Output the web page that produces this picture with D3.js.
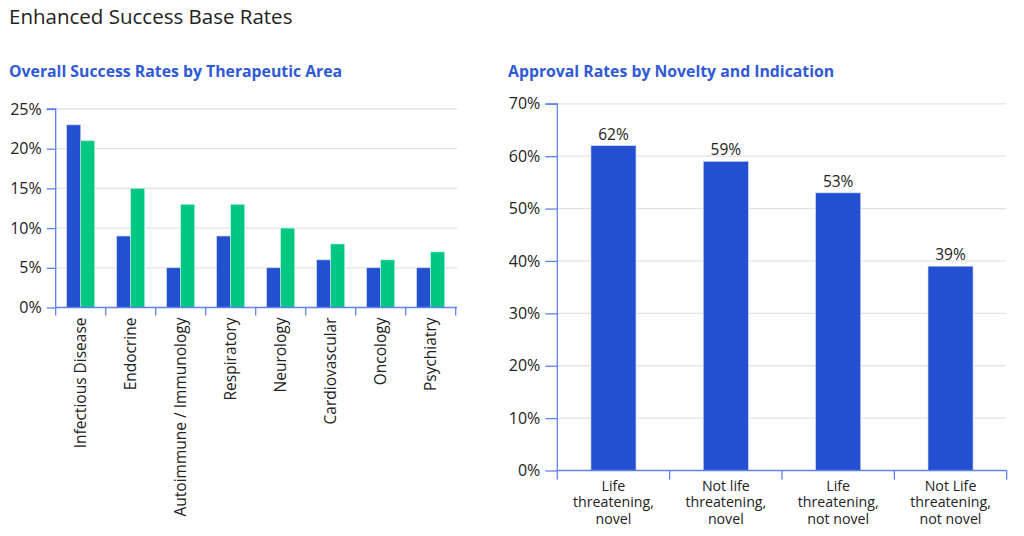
<!DOCTYPE html>
<html><head><meta charset="utf-8">
<script src="https://cdn.jsdelivr.net/npm/d3@7"></script>
<style>
body{margin:0;background:#fff;}
svg text{font-family:"Open Sans",sans-serif;}
</style></head>
<body><svg id="c" width="1024" height="536"></svg>
<script>
const areas = ["Infectious Disease","Endocrine","Autoimmune / Immunology","Respiratory","Neurology","Cardiovascular","Oncology","Psychiatry"];
const seriesA = [23,9,5,9,5,6,5,5];
const seriesB = [21,15,13,13,10,8,6,7];
const leftTicks = [0,5,10,15,20,25];

const groups = [["Life","threatening,","novel"],["Not life","threatening,","novel"],["Life","threatening,","not novel"],["Not Life","threatening,","not novel"]];
const approval = [62,59,53,39];
const rightTicks = [0,10,20,30,40,50,60,70];

const FONT = '"Open Sans",sans-serif';
const BLUE="#2350d0", GREEN="#00c882", AX="#5f82e6", GRID="#e3e3e3", TXT="#222";
const svg = d3.select("#c");

svg.append("text").attr("x",9).attr("y",24).attr("font-size",20.5).attr("font-weight",400).attr("fill",TXT).text("Enhanced Success Base Rates");
svg.append("text").attr("x",9).attr("y",77).attr("font-size",15.8).attr("font-weight",700).attr("fill","#2f5ad6").text("Overall Success Rates by Therapeutic Area");
svg.append("text").attr("x",508).attr("y",77).attr("font-size",15.8).attr("font-weight",700).attr("fill","#2f5ad6").text("Approval Rates by Novelty and Indication");

// Left chart
const x1 = d3.scaleBand().domain(areas).range([55.7,455.7]);
const y1 = d3.scaleLinear().domain([0,25]).range([307.5,109]);
const g1 = svg.append("g");
g1.selectAll("line.grid").data(leftTicks.slice(1)).join("line")
  .attr("x1",55.7).attr("x2",457).attr("y1",d=>y1(d)).attr("y2",d=>y1(d))
  .attr("stroke",GRID).attr("stroke-width",1.3);
const bw = 14;
g1.selectAll("rect.a").data(areas).join("rect")
  .attr("x",d=>x1(d)+x1.bandwidth()/2-bw).attr("width",bw)
  .attr("y",(d,i)=>y1(seriesA[i])).attr("height",(d,i)=>y1(0)-y1(seriesA[i]))
  .attr("fill",BLUE).attr("stroke","#c8d4f6").attr("stroke-width",0.6);
g1.selectAll("rect.b").data(areas).join("rect")
  .attr("x",d=>x1(d)+x1.bandwidth()/2).attr("width",bw)
  .attr("y",(d,i)=>y1(seriesB[i])).attr("height",(d,i)=>y1(0)-y1(seriesB[i]))
  .attr("fill",GREEN).attr("stroke","#bff0dc").attr("stroke-width",0.6);
const ya1 = g1.append("g").attr("transform","translate(55.7,0)")
  .call(d3.axisLeft(y1).tickValues(leftTicks).tickFormat(d=>d+"%").tickSize(9).tickPadding(5));
ya1.select(".domain").attr("stroke",AX).attr("stroke-width",1.3).attr("d",`M-9,${y1(25)}H0V${y1(0)}`);
ya1.selectAll(".tick line").attr("stroke",AX).attr("stroke-width",1.3);
ya1.selectAll(".tick text").attr("font-size",16).attr("fill",TXT).attr("font-family",FONT);
const xa1 = g1.append("g").attr("transform",`translate(0,${y1(0)})`)
  .call(d3.axisBottom(x1).tickSize(0).tickPadding(0));
xa1.select(".domain").attr("stroke",AX).attr("stroke-width",1.3).attr("d","M55.7,0H457");
xa1.selectAll(".tick text").attr("font-size",15.5).attr("fill",TXT).attr("font-family",FONT)
  .attr("text-anchor","end").attr("dy","0.35em").attr("transform","translate(0,10) rotate(-90)").attr("x",0).attr("y",0);
g1.selectAll("line.sep").data(d3.range(areas.length+1)).join("line")
  .attr("x1",i=>55.7+i*x1.bandwidth()).attr("x2",i=>55.7+i*x1.bandwidth())
  .attr("y1",y1(0)).attr("y2",y1(0)+8).attr("stroke",AX).attr("stroke-width",1.3);

// Right chart
const gLabels = groups.map(g=>g.join(" "));
const x2 = d3.scaleBand().domain(gLabels).range([557.3,1006.7]).paddingInner(0);
const y2 = d3.scaleLinear().domain([0,70]).range([470.5,103.8]);
const g2 = svg.append("g");
g2.selectAll("line.grid").data(rightTicks.slice(1)).join("line")
  .attr("x1",557.3).attr("x2",1006).attr("y1",d=>y2(d)).attr("y2",d=>y2(d))
  .attr("stroke",GRID).attr("stroke-width",1.3);
const bw2 = 45;
g2.selectAll("rect").data(gLabels).join("rect")
  .attr("x",d=>x2(d)+x2.bandwidth()/2-bw2/2).attr("width",bw2)
  .attr("y",(d,i)=>y2(approval[i])).attr("height",(d,i)=>y2(0)-y2(approval[i]))
  .attr("fill",BLUE).attr("stroke","#c8d4f6").attr("stroke-width",0.6);
g2.selectAll("text.val").data(gLabels).join("text")
  .attr("x",d=>x2(d)+x2.bandwidth()/2).attr("y",(d,i)=>y2(approval[i])-6)
  .attr("text-anchor","middle").attr("font-size",15.5).attr("fill",TXT).text((d,i)=>approval[i]+"%");
const ya2 = g2.append("g").attr("transform","translate(557.3,0)")
  .call(d3.axisLeft(y2).tickValues(rightTicks).tickFormat(d=>d+"%").tickSize(12).tickPadding(5));
ya2.select(".domain").attr("stroke",AX).attr("stroke-width",1.3).attr("d",`M-12,${y2(70)}H0V${y2(0)}`);
ya2.selectAll(".tick line").attr("stroke",AX).attr("stroke-width",1.3);
ya2.selectAll(".tick text").attr("font-size",16).attr("fill",TXT).attr("font-family",FONT);
const xa2 = g2.append("g").attr("transform",`translate(0,${y2(0)})`)
  .call(d3.axisBottom(x2).tickSize(0).tickFormat(""));
xa2.select(".domain").attr("stroke",AX).attr("stroke-width",1.3).attr("d","M557.3,0H1006.7");
g2.selectAll("line.sep").data(d3.range(groups.length+1)).join("line")
  .attr("x1",i=>557.3+i*x2.bandwidth()).attr("x2",i=>557.3+i*x2.bandwidth())
  .attr("y1",y2(0)).attr("y2",y2(0)+9).attr("stroke",AX).attr("stroke-width",1.3);
const lab = g2.selectAll("text.xl").data(groups).join("text")
  .attr("text-anchor","middle").attr("font-size",14.2).attr("fill",TXT)
  .attr("x",(d,i)=>x2(gLabels[i])+x2.bandwidth()/2);
lab.selectAll("tspan").data(d=>d).join("tspan")
  .attr("x",function(){return this.parentNode.getAttribute("x");})
  .attr("y",(d,j)=>y2(0)+20+j*16.5).text(d=>d);
</script></body></html>
